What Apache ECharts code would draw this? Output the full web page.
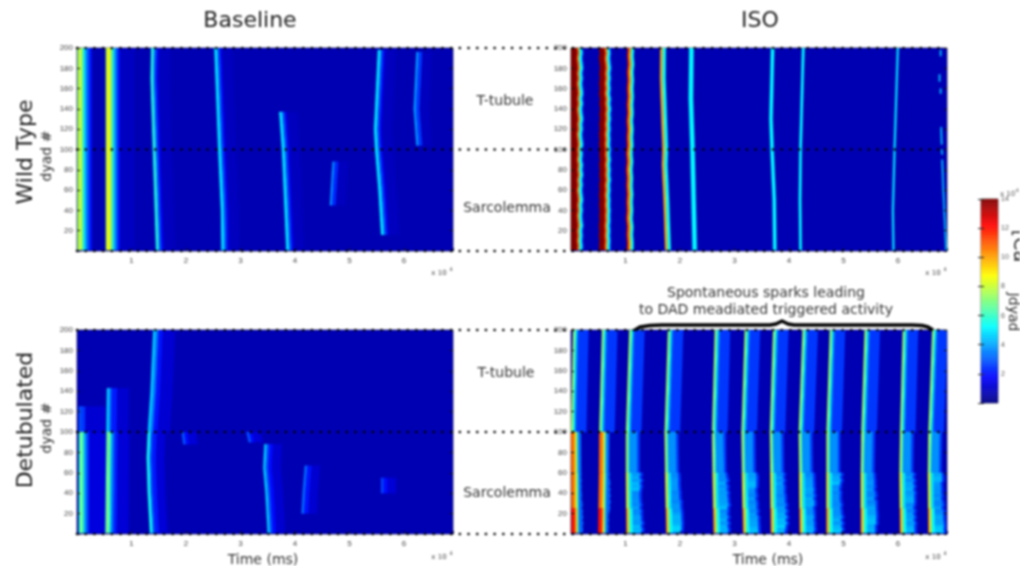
<!DOCTYPE html>
<html><head><meta charset="utf-8">
<script src="https://cdn.jsdelivr.net/npm/echarts@6/dist/echarts.min.js"></script>
<style>html,body{margin:0;padding:0;background:#fff;overflow:hidden}#c{width:1020px;height:566px;filter:blur(0.8px)}</style>
</head><body><div id="c"></div>
<script>
// Colour scale (matlab jet), value unit 1e-4
const jetStops = ['#000080','#0000ff','#0080ff','#00ffff','#80ff80','#ffff00','#ff8000','#ff0000','#800000'];
const jetRange = [0, 14];
const bgValue = 0.7;
const xTickLabels = ['1','2','3','4','5','6'];

// Band tables: [offset start ms, offset end ms, value]
const wt1 = [[0,250,7.2],[250,800,8],[800,1100,6.8],[1100,1400,5.2],[1400,1750,4],[1750,2200,3],[2200,2600,2]];
const wt2 = [[0,250,7.6],[250,850,8.7],[850,1150,7.2],[1150,1450,5.8],[1450,1800,4.4],[1800,2200,3.1],[2200,2600,2],[2600,5200,0.9]];
const wt3 = [[0,150,5],[150,450,6],[450,700,4.4],[700,1100,2.7],[1100,1500,1.5],[1500,3500,0.85]];
const wt4 = [[0,150,4.6],[150,450,5.2],[450,700,4],[700,1100,2.6],[1100,1500,1.4],[1500,3300,0.85]];
const wt6 = [[0,400,3.8],[400,1100,2.3],[1100,2800,0.85]];
const wt8 = [[0,400,4],[400,1100,2.5],[1100,2800,0.85]];
const iso1 = [[-200,1050,14],[1050,1300,11.5],[1300,1500,9.8],[1500,2050,5.4],[2050,2200,2.5]];
const iso2 = [[0,1000,14],[1000,1250,11.5],[1250,1500,9.8],[1500,2000,5.4],[2000,2150,2.5]];
const iso3 = [[0,250,13],[250,550,10.5],[550,750,9.5],[750,1200,5.4]];
const iso4 = [[0,450,9.9],[450,1000,5.4]];
const iso5 = [[0,800,5.2]];
const iso6 = [[0,600,5.2]];
const iso7 = [[0,450,5.2]];
const iso8 = [[0,350,4.9]];
const iso9 = [[0,250,4.6]];
const det1Low = [[0,200,5.6],[200,800,6.8],[800,1100,5],[1100,1500,3.5],[1500,1900,2.5],[1900,5000,1.3]];
const det1Up = [[0,500,2.9],[500,1200,2.5],[1200,4800,1.15]];
const det2Low = [[0,200,6],[200,650,7.2],[650,1000,5.5],[1000,1500,3.4],[1500,2100,2.2],[2100,4200,1.2]];
const det2Up = [[0,500,4.6],[500,900,3.3],[900,1900,2.1],[1900,4000,1.1]];
const det3Up = [[0,500,4.6],[500,1000,3.4],[1000,1800,2],[1800,4000,1.15]];
const det3Low = [[0,500,5.5],[500,900,3.3],[900,1700,2.1],[1700,3200,1.2]];
const det4 = [[0,500,2.9],[500,1100,1.9],[1100,2600,1.2]];
const det6 = [[0,400,4.8],[400,900,3],[900,1600,1.9],[1600,3200,1.1]];
const det7 = [[0,500,3.2],[500,1300,2],[1300,2800,1.1]];
const det8 = [[0,500,2.7],[500,1200,1.9],[1200,2700,1.2]];
const dadUpper = [[0,350,7.6],[350,700,5.4],[700,1000,3.6],[1000,2800,2.5]];
const dadMid = [[0,300,8],[300,650,6],[650,2100,3.7],[2100,2500,2.6]];
const dadLowA = [[0,300,8.8],[300,600,7],[600,1000,5]];
const dadLowB = [[0,300,10.2],[300,600,8.2],[600,1100,5.4]];
const dadFirst = [[0,650,10.8],[650,1000,9],[1000,1300,6.2]];
const dadFirstBottom = [[0,700,12],[700,1050,9.6],[1050,1300,6.4]];

// Wild type, baseline: [time ms, dyad #] along each spark front
const wtBaseline = [
  {front:[[100,200],[100,1]], bands:wt1},
  {front:[[5300,200],[5300,1]], bands:wt2},
  {front:[[13600,200],[13500,170],[13900,100],[14500,1]], bands:wt3},
  {front:[[25200,200],[25900,100],[26400,40],[26500,1]], bands:wt4},
  {front:[[37100,137],[37600,100],[38400,1]], bands:wt4},
  {front:[[46900,88],[46400,45]], bands:wt6},
  {front:[[55200,198],[54500,120],[54700,100],[55300,60],[55800,16]], bands:wt4},
  {front:[[62300,196],[61800,140],[62300,104]], bands:wt8}
];
// Wild type, ISO
const isoFront1 = [[0,200],[120,195],[-40,190],[90,185],[170,180],[10,175],[130,170],[-30,165],[100,160],[190,155],[30,150],[160,145],[-20,140],[80,135],[200,130],[40,125],[130,120],[-50,115],[70,110],[180,105],[20,100],[110,95],[-30,90],[150,85],[50,80],[180,75],[0,70],[120,65],[-40,60],[90,55],[170,50],[20,45],[120,40],[-20,35],[60,30],[170,25],[0,20],[90,15],[-20,10],[110,5],[30,1]];
const isoFront2 = [[5100,200],[5260,195],[5130,190],[5240,185],[5340,180],[5190,175],[5300,170],[5150,165],[5280,160],[5130,155],[5330,150],[5210,145],[5370,140],[5220,135],[5320,130],[5170,125],[5280,120],[5130,115],[5250,110],[5140,105],[5300,100],[5190,95],[5320,90],[5170,85],[5290,80],[5200,75],[5330,70],[5160,65],[5260,60],[5120,55],[5240,50],[5150,45],[5270,40],[5180,35],[5240,30],[5110,25],[5210,20],[5120,15],[5230,10],[5140,5],[5180,1]];
const isoFront3 = [[10380,200],[10280,192],[10400,184],[10250,176],[10350,168],[10240,160],[10330,152],[10210,144],[10300,136],[10160,128],[10280,120],[10180,112],[10260,104],[10090,96],[10220,88],[10070,80],[10190,72],[10120,64],[10230,56],[10130,48],[10210,40],[10090,32],[10260,24],[10170,16],[10280,8],[10250,1]];
const wtIso = [
  {front:isoFront1, bands:iso1},
  {front:isoFront2, bands:iso2},
  {front:isoFront3, bands:iso3},
  {front:[[16400,200],[16350,170],[16600,130],[16800,100],[16700,85],[17000,50],[17300,1]], bands:iso4},
  {front:[[21700,200],[21600,150],[21900,100],[22100,50],[22300,1]], bands:iso5},
  {front:[[36700,200],[36400,130],[36600,100],[37000,50],[37100,1]], bands:iso6},
  {front:[[42400,200],[41900,100],[41800,50],[41900,1]], bands:iso7},
  {front:[[59800,200],[59200,100],[58900,40],[59000,1]], bands:iso8},
  {front:[[67700,198],[67700,192]], bands:iso9},
  {front:[[67500,174],[67500,167]], bands:iso9},
  {front:[[67700,160],[67700,155]], bands:iso9},
  {front:[[67800,122],[67900,105]], bands:iso9},
  {front:[[67900,100],[68000,95]], bands:iso9},
  {front:[[68000,90],[68200,60],[68700,1]], bands:iso9}
];
// Detubulated, baseline
const detBaseline = [
  {front:[[350,125],[350,100]], bands:det1Up},
  {front:[[350,100],[350,1]], bands:det1Low},
  {front:[[5500,143],[5400,100]], bands:det2Up},
  {front:[[5400,100],[5200,1]], bands:det2Low},
  {front:[[14000,200],[13500,140],[13000,100]], bands:det3Up},
  {front:[[13000,100],[12800,75],[13000,40],[13400,1]], bands:det3Low},
  {front:[[19200,100],[19500,88]], bands:det4},
  {front:[[31100,100],[31500,90]], bands:det4},
  {front:[[34400,88],[34200,65],[34600,40],[35000,1]], bands:det6},
  {front:[[41800,67],[41400,40],[41200,20]], bands:det7},
  {front:[[55800,55],[55800,40]], bands:det8}
];
// Detubulated, ISO: front time at dyad 200, 100, 60, 1 for each of the 12 beats
const dadT200 = [400,5700,10700,17800,26400,31900,37100,42500,47500,53900,60900,66300];
const dadT100 = [0,5200,10100,17200,25900,31300,36500,41800,46900,53300,60400,65600];
const dadT60 = [50,5150,10100,17300,26000,31400,36600,41900,46900,53200,60300,65500];
const dadT1 = [100,5000,10200,17500,26200,31600,36700,42000,46900,53200,60400,65600];
// Rough tail of the lower cell rows: [dyad top, dyad bottom, tail length ms, value]
const tailRows = [[60,57,2400,3.7],[57,54,2300,3.8],[54,51,2500,3.6],[51,48,2300,4],[48,45,2450,3.7],[45,42,2350,3.9],[42,39,2500,3.7],[39,36,2550,3.6],[36,33,2400,3.9],[33,30,2650,3.6],[30,27,2800,3.7],[27,24,2550,4.1],[24,21,2850,3.7],[21,18,2700,4],[18,15,2950,4.2],[15,12,2700,4.4],[12,9,3000,4.1],[9,6,2750,4.5],[6,3,2900,4.6],[3,1,2700,4.8]];

const panels = [
  {left:77, top:48, h:203},
  {left:571, top:48, h:203},
  {left:77, top:330, h:204},
  {left:571, top:330, h:204}
];
const panelW = 376;
const xMax = 69000;
const dyadMax = 200;

function sparkPolys(sparks){
  const out = [[[0,0],[xMax,0],[xMax,dyadMax],[0,dyadMax],bgValue]];
  sparks.forEach(s=>s.bands.forEach(b=>{
    const a = s.front.map(p=>[p[0]+b[0],p[1]]);
    const z = s.front.slice().reverse().map(p=>[p[0]+b[1],p[1]]);
    out.push(a.concat(z).concat([b[2]]));
  }));
  return out;
}
function dadPolys(){
  const sparks = [];
  dadT200.forEach((t,i)=>{
    sparks.push({front:[[t,200],[dadT100[i],100]], bands:dadUpper});
    sparks.push({front:[[dadT100[i],100],[dadT60[i],60]], bands: i<2 ? dadFirst.concat([[1300,1800,3.4]]) : dadMid});
  });
  const out = sparkPolys(sparks);
  dadT1.forEach((t1,i)=>{
    const t60 = dadT60[i];
    const at = d => t60 + (t1-t60)*(60-d)/59;
    const bandsTop = i<2 ? dadFirst : dadLowA;
    const bandsBot = i<2 ? dadFirstBottom : dadLowB;
    const start = bandsTop[bandsTop.length-1][1];
    tailRows.forEach((r,k)=>{
      const q = tailRows[(k+i*7)%tailRows.length];
      const len = i<2 ? 1800 + (q[2]-2300)*0.5 : r[2] + (q[2]-r[2])*0.5;
      const v = i<2 ? 3.2 : (r[3]+q[3])/2;
      out.push([[at(r[0])+start,r[0]],[at(r[1])+start,r[1]],[at(r[1])+len,r[1]],[at(r[0])+len,r[0]],v]);
      if(i>=2) out.push([[at(r[0])+len,r[0]],[at(r[1])+len,r[1]],[at(r[1])+len+400,r[1]],[at(r[0])+len+400,r[0]],2.5]);
    });
    bandsTop.forEach(b=>{
      out.push([[t60+b[0],60],[at(25)+b[0],25],[at(25)+b[1],25],[t60+b[1],60],b[2]]);
    });
    bandsBot.forEach(b=>{
      out.push([[at(25)+b[0],25],[t1+b[0],1],[t1+b[1],1],[at(25)+b[1],25],b[2]]);
    });
  });
  return out;
}
const polySets = [sparkPolys(wtBaseline), sparkPolys(wtIso), sparkPolys(detBaseline), dadPolys()];

// colourbar levels
const barLevels = [];
for(let v=0;v<14;v+=0.1) barLevels.push(v);
const barPolys = barLevels.map(v=>[[0,v],[1,v],[1,v+0.1],[0,v+0.1],v+0.05]);
polySets.push(barPolys);

function render(set){
  return function(params, api){
    const poly = set[params.dataIndex];
    const pts = poly.slice(0,-1).map(p=>api.coord(p));
    const col = api.visual('color');
    return {type:'polygon', shape:{points:pts}, style:{fill:col, stroke:col, lineWidth:0.3}, silent:true};
  };
}

const labelFont = {fontFamily:'Liberation Sans', fontSize:8, color:'#444'};
const grids=[], xAxes=[], yAxes=[], series=[];
panels.forEach((p,i)=>{
  grids.push({left:p.left, top:p.top, width:panelW, height:p.h, show:true, borderColor:'#555', borderWidth:1, backgroundColor:'transparent'});
  const xBase = {type:'value', gridIndex:i, min:0, max:xMax, interval:10000, splitLine:{show:false}, z:5,
    axisLine:{show:false}, axisTick:{inside:true, length:3, lineStyle:{color:'#111'}}};
  xAxes.push(Object.assign({}, xBase, {position:'bottom', axisLabel:Object.assign({}, labelFont, {margin:6, showMinLabel:false,
    formatter:v=> v===0 ? '' : (xTickLabels[v/10000-1]||'')})}));
  const yBase = {type:'value', gridIndex:i, min:0, max:dyadMax, interval:20, splitLine:{show:false}, z:5,
    axisLine:{show:false}, axisTick:{inside:true, length:3, lineStyle:{color:'#111'}}};
  yAxes.push(Object.assign({}, yBase, {position:'left', axisLabel:Object.assign({}, labelFont, {margin:4, formatter:v=> v===0?'':String(v)})}));
  yAxes.push(Object.assign({}, yBase, {position:'right', axisLabel:{show:false}}));
});
// colourbar grid
grids.push({left:981, top:199, width:17, height:204, show:true, borderColor:'#777', borderWidth:1});
xAxes.push({type:'value', gridIndex:4, min:0, max:1, show:false});
const barY = {type:'value', gridIndex:4, min:0, max:14, interval:2, splitLine:{show:false}, z:5, axisLine:{show:false},
  axisTick:{inside:true, length:3, lineStyle:{color:'#222'}}};
yAxes.push(Object.assign({}, barY, {position:'right', axisLabel:{fontFamily:'Liberation Sans', fontSize:7, color:'#555', margin:3, formatter:v=> v===0?'':String(v)}}));
yAxes.push(Object.assign({}, barY, {position:'left', axisLabel:{show:false}}));

polySets.forEach((set,i)=>{
  series.push({type:'custom', xAxisIndex:i, yAxisIndex:i*2, clip:true, silent:true, animation:false,
    renderItem:render(set), encode:{x:0,y:1},
    data:set.map(pl=>[pl[0][0],pl[0][1],pl[pl.length-1]])});
});

const chart = echarts.init(document.getElementById('c'), null, {renderer:'canvas'});
chart.setOption({
  animation:false, backgroundColor:'#fff', grid:grids, xAxis:xAxes, yAxis:yAxes,
  visualMap:{show:false, type:'continuous', min:jetRange[0], max:jetRange[1], dimension:2, seriesIndex:[0,1,2,3,4], inRange:{color:jetStops}},
  series:series
});

// annotations
const F='DejaVu Sans';
function txt(s,x,y,size,rot,fill,align){return {type:'text',x:x,y:y,rotation:rot||0,z:50,silent:true,
  style:{text:s,font:size+'px "'+F+'"',fill:fill||'#222',align:align||'center',verticalAlign:'middle'}};}
const g=[
  txt('Baseline',250,21,22), txt('ISO',760,21,22),
  txt('Wild Type',26,152,22,Math.PI/2), txt('dyad #',47,156,14,Math.PI/2),
  txt('Detubulated',26,420,22,Math.PI/2), txt('dyad #',47,428,14,Math.PI/2),
  txt('T-tubule',505,101,14,0,'#333'), txt('Sarcolemma',507,208,14,0,'#333'),
  txt('T-tubule',506,373,14,0,'#333'), txt('Sarcolemma',507,493,14,0,'#333'),
  txt('Time (ms)',263,560,14,0,'#333'), txt('Time (ms)',768,560,14,0,'#333'),
  txt('Spontaneous sparks leading',766,293,14,0,'#333'),
  txt('to DAD meadiated triggered activity',766,310,14,0,'#333'),
  txt('[Ca',1019,246,19,-Math.PI/2), txt('Jdyad',1013,312,14,-Math.PI/2),
  txt('x 10',1000,194,7,0,'#555','left'), txt('-4',1014,191,5,0,'#555','left'),
  {type:'polyline',z:40,silent:true,shape:{points:[[635,330],[640,327],[650,325.5],[662,325],[770,325],[776,324],[782,321],[788,324],[794,325],[912,325],[922,325.5],[928,327],[933,330]]},
   style:{fill:'none',stroke:'#000',lineWidth:3.4,lineJoin:'round'}}
];
[[442,273],[936,273],[442,557],[936,557]].forEach(p=>{
  g.push(txt('x 10',p[0]-3,p[1],7,0,'#444'));
  g.push(txt('4',p[0]+9,p[1]-3,5,0,'#444'));
});
[[0,200],[0,100],[0,0],[2,200],[2,100],[2,0]].forEach(d=>{
  const a=chart.convertToPixel({xAxisIndex:d[0],yAxisIndex:d[0]*2},[0,d[1]]);
  const b=chart.convertToPixel({xAxisIndex:d[0]+1,yAxisIndex:(d[0]+1)*2},[xMax,d[1]]);
  g.push({type:'line',z:45,silent:true,shape:{x1:a[0],y1:a[1],x2:b[0],y2:b[1]},
    style:{stroke:'#000',lineWidth:2.6,lineCap:'round',lineDash:[0.1,8.6]}});
});
chart.setOption({graphic:g});
</script></body></html>
